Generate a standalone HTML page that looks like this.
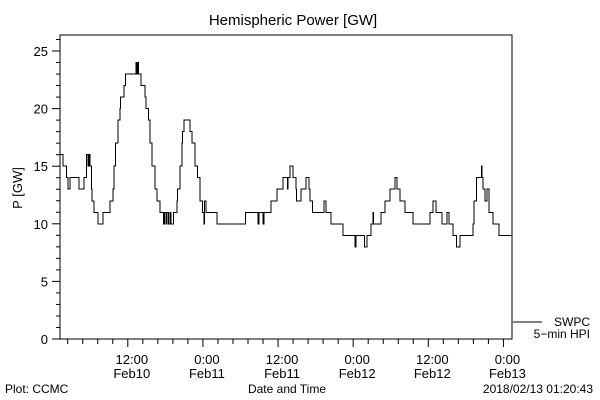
<!DOCTYPE html>
<html><head><meta charset="utf-8"><style>
body{margin:0;background:#fff}
svg{display:block;font-family:"Liberation Sans",sans-serif}
</style></head><body>
<svg id="c" width="600" height="400">
<text x="293" y="25" font-size="15" text-anchor="middle">Hemispheric Power [GW]</text>
<text transform="translate(22,188) rotate(-90)" font-size="13" text-anchor="middle">P [GW]</text>
<text x="287" y="393" font-size="12" text-anchor="middle">Date and Time</text>
<text x="5" y="393" font-size="12">Plot: CCMC</text>
<text x="593" y="393" font-size="12" text-anchor="end">2018/02/13 01:20:43</text>
<line x1="513" y1="322" x2="542" y2="322" stroke="#000"/>
<text x="590" y="326" font-size="12" text-anchor="end">SWPC</text>
<text x="590" y="338" font-size="12" text-anchor="end">5−min HPI</text>
<rect x="60" y="35" width="452" height="304" fill="none" stroke="#000"/>
<g id="g"></g>
</svg>
<script>
const times=[0,0.5,1.0,1.3,1.6,3.0,3.8,4.2,4.5,4.6,4.8,5.0,5.1,5.4,6.1,6.9,8.0,8.5,8.6,8.9,9.3,9.6,9.7,10.2,10.5,12.1,12.3,12.4,12.5,12.9,13.6,13.7,14.1,14.4,14.7,15.2,15.5,16.0,16.5,16.7,16.9,17.1,17.3,17.6,17.7,18.1,18.7,18.8,19.2,19.5,19.6,19.8,20.8,21.1,21.6,22.0,22.4,22.8,23.0,23.1,23.3,25.1,29.6,31.6,31.8,32.4,32.6,33.7,34.7,35.6,36.3,36.4,36.7,37.2,37.7,37.8,38.5,39.3,39.8,39.9,40.3,42.2,42.5,43.3,45.2,47.1,47.3,48.6,49.0,49.7,50.0,50.1,51.3,51.9,52.7,53.5,53.8,54.3,55.1,56.4,59.1,59.6,60.1,61.0,61.8,62.1,62.8,63.3,63.9,66.0,66.1,66.5,67.3,67.4,67.6,67.9,68.2,68.5,69.2,70.1];
const powers=[16,15,14,13,14,13,14,16,15,16,15,13,12,11,10,11,12,13,15,17,19,20,21,22,23,24,23,24,23,22,21,20,19,17,15,13,12,11,10,11,10,11,10,11,10,11,12,13,15,17,18,19,18,17,15,14,12,11,10,12,11,10,11,10,11,10,11,12,13,14,13,14,15,14,13,12,13,14,13,12,11,12,11,10,9,8,9,8,9,10,11,10,11,12,13,14,13,12,11,10,11,12,11,10,11,10,9,8,9,10,12,14,15,14,13,12,13,11,10,9];
const yTicks=[0,5,10,15,20,25];
const xTickHours=[10.83,22.83,34.83,46.83,58.83,70.83];
const xTickTimes=["12:00","0:00","12:00","0:00","12:00","0:00"];
const xTickDates=["Feb10","Feb11","Feb11","Feb12","Feb12","Feb13"];
const tEnd=72.2;
const X=h=>60+h*452/tEnd, Y=v=>339-v*11.52;
const g=document.getElementById('g'),NS='http://www.w3.org/2000/svg';
function mk(t,a){const e=document.createElementNS(NS,t);for(const k in a)e.setAttribute(k,a[k]);g.appendChild(e);return e;}
for(let v=0;v<=26;v++){const maj=v%5===0;const l=mk('line',{x1:60-(maj?8:4),x2:60,y1:Y(v),y2:Y(v),stroke:'#000'});

}
yTicks.forEach(v=>{const t=mk('text',{x:48,y:Y(v)+5,'font-size':13,'text-anchor':'end'});t.textContent=v;

});
for(let k=-4;k<=25;k++){const h=xTickHours[0]+k*2.4;if(h<0.3||h>tEnd)continue;const maj=k%5===0;
const l=mk('line',{x1:X(h),x2:X(h),y1:339,y2:339+(maj?8:5),stroke:'#000'});

}
xTickHours.forEach((h,i)=>{const a=mk('text',{x:X(h)+4,y:364,'font-size':13,'text-anchor':'middle'});a.textContent=xTickTimes[i];


const b=mk('text',{x:X(h)+4,y:378,'font-size':13,'text-anchor':'middle'});b.textContent=xTickDates[i];

});
let d='M'+X(times[0])+','+Y(powers[0]);
for(let i=1;i<times.length;i++){d+=' H'+X(times[i]).toFixed(1)+' V'+Y(powers[i]).toFixed(1);}
d+=' H'+X(tEnd);
const p=mk('path',{d:d,fill:'none',stroke:'#000','stroke-width':1,'shape-rendering':'crispEdges'});


</script>
</body></html>
